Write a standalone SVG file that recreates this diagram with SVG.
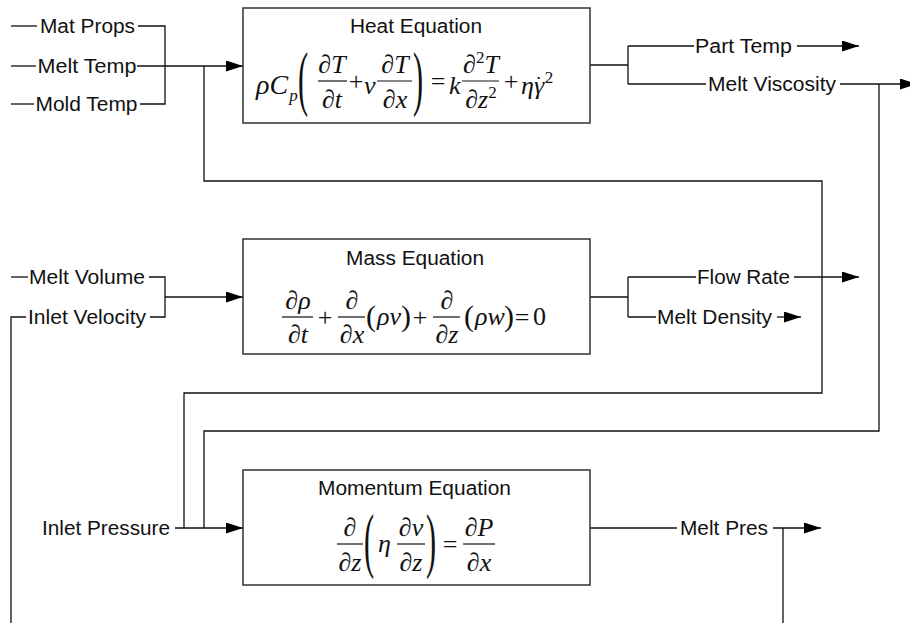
<svg xmlns="http://www.w3.org/2000/svg" width="910" height="623" viewBox="0 0 910 623">
<style>
.bg{fill:#fff}
.box{fill:#fff;stroke:#333;stroke-width:1.5}
.ln{fill:none;stroke:#111;stroke-width:1.3}
.bar{stroke:#111;stroke-width:1.2}
.lbl{font-family:"Liberation Sans",Arial,sans-serif;font-size:20px;fill:#111}
.m{font-family:"Liberation Serif","Times New Roman",serif;font-size:26px;font-style:italic;fill:#111}
.u{font-style:normal}
.sup{font-style:normal;font-size:17px}
.bp{font-size:72px;font-style:normal}
.rp{font-size:30px;font-style:normal}
.c{text-anchor:middle}
</style>
<defs>
<marker id="ah" markerWidth="17" markerHeight="11" refX="17" refY="5.5" orient="auto" markerUnits="userSpaceOnUse"><path d="M0,0 L17,5.5 L0,11 z" fill="#000"/></marker>
</defs>
<rect class="bg" width="910" height="623"/>
<g id="connectors">
<path class="ln" d="M11,26 H37"/>
<path class="ln" d="M138,26 H165 V104 H140"/>
<path class="ln" d="M11,66 H36"/>
<path class="ln" d="M137,66 H243" marker-end="url(#ah)"/>
<path class="ln" d="M11,104 H34"/>
<path class="ln" d="M204,66 V181 H822 V393 H184 V528"/>
<path class="ln" d="M879,84 V431 H204 V528"/>
<path class="ln" d="M175,528 H243" marker-end="url(#ah)"/>
<path class="ln" d="M590,65 H628 M628,46 V84 M628,46 H694 M628,84 H706"/>
<path class="ln" d="M797,46 H859" marker-end="url(#ah)"/>
<path class="ln" d="M840,84 H917" marker-end="url(#ah)"/>
<path class="ln" d="M11,277 H28"/>
<path class="ln" d="M149,277 H165 V317 H150"/>
<path class="ln" d="M165,297 H243" marker-end="url(#ah)"/>
<path class="ln" d="M26,317 H11 V623"/>
<path class="ln" d="M590,297 H628 M628,277 V317 M628,277 H696 M628,317 H656"/>
<path class="ln" d="M794,277 H859" marker-end="url(#ah)"/>
<path class="ln" d="M777,317 H801" marker-end="url(#ah)"/>
<path class="ln" d="M590,528 H677"/>
<path class="ln" d="M773,528 H821" marker-end="url(#ah)"/>
<path class="ln" d="M783,528 V623"/>
</g>
<g id="lbl-mat-props"><text class="lbl" x="40" y="33" textLength="95" lengthAdjust="spacingAndGlyphs">Mat Props</text></g>
<g id="lbl-melt-temp"><text class="lbl" x="37.5" y="73" textLength="99" lengthAdjust="spacingAndGlyphs">Melt Temp</text></g>
<g id="lbl-mold-temp"><text class="lbl" x="35.5" y="111" textLength="102" lengthAdjust="spacingAndGlyphs">Mold Temp</text></g>
<g id="lbl-part-temp"><text class="lbl" x="695" y="53" textLength="97" lengthAdjust="spacingAndGlyphs">Part Temp</text></g>
<g id="lbl-melt-viscosity"><text class="lbl" x="708" y="91" textLength="128" lengthAdjust="spacingAndGlyphs">Melt Viscosity</text></g>
<g id="lbl-melt-volume"><text class="lbl" x="29" y="284" textLength="116" lengthAdjust="spacingAndGlyphs">Melt Volume</text></g>
<g id="lbl-inlet-velocity"><text class="lbl" x="28" y="324" textLength="118" lengthAdjust="spacingAndGlyphs">Inlet Velocity</text></g>
<g id="lbl-flow-rate"><text class="lbl" x="697" y="284" textLength="93" lengthAdjust="spacingAndGlyphs">Flow Rate</text></g>
<g id="lbl-melt-density"><text class="lbl" x="657" y="324" textLength="115" lengthAdjust="spacingAndGlyphs">Melt Density</text></g>
<g id="lbl-inlet-pressure"><text class="lbl" x="42" y="535" textLength="128" lengthAdjust="spacingAndGlyphs">Inlet Pressure</text></g>
<g id="lbl-melt-pres"><text class="lbl" x="680" y="535" textLength="88" lengthAdjust="spacingAndGlyphs">Melt Pres</text></g>

<g id="heat-equation">
<rect class="box" x="243" y="8" width="347" height="115"/>
<text class="lbl" x="350" y="33" textLength="132" lengthAdjust="spacingAndGlyphs">Heat Equation</text>
<text class="m" x="256" y="94" style="font-size:28px">ρC<tspan style="font-size:17px" dx="1" dy="7">p</tspan></text>
<text class="m bp" transform="translate(298,102) scale(0.42,1)">(</text>
<text class="m c" x="332" y="73">∂T</text>
<line class="bar" x1="318" y1="81" x2="347" y2="81"/>
<text class="m c" x="332" y="108">∂t</text>
<text class="m u c" x="356" y="90">+</text>
<text class="m" x="364" y="94">v</text>
<text class="m c" x="395" y="73">∂T</text>
<line class="bar" x1="377" y1="81" x2="412" y2="81"/>
<text class="m c" x="395" y="108">∂x</text>
<text class="m bp" transform="translate(413,102) scale(0.42,1)">)</text>
<text class="m u c" x="438" y="90">=</text>
<text class="m" x="449" y="94">k</text>
<text class="m c" x="481" y="73">∂<tspan class="sup" dy="-10">2</tspan><tspan dy="10">T</tspan></text>
<line class="bar" x1="462" y1="81" x2="499" y2="81"/>
<text class="m c" x="481" y="108">∂z<tspan class="sup" dy="-10">2</tspan></text>
<text class="m u c" x="511" y="90">+</text>
<text class="m" x="521" y="94">ηγ<tspan style="font-style:normal;font-size:20px" dx="-9" dy="-3">˙</tspan><tspan class="sup" dx="3" dy="-8">2</tspan></text>
</g>

<g id="mass-equation">
<rect class="box" x="243" y="239" width="347" height="115"/>
<text class="lbl" x="346" y="265" textLength="138" lengthAdjust="spacingAndGlyphs">Mass Equation</text>
<text class="m c" x="298" y="309">∂ρ</text>
<line class="bar" x1="282" y1="317" x2="313" y2="317"/>
<text class="m c" x="298" y="343">∂t</text>
<text class="m u c" x="325" y="326">+</text>
<text class="m c" x="352" y="309">∂</text>
<line class="bar" x1="338" y1="317" x2="365" y2="317"/>
<text class="m c" x="352" y="343">∂x</text>
<text class="m rp" x="366" y="326">(</text>
<text class="m" x="377" y="325">ρv</text>
<text class="m rp" x="401" y="326">)</text>
<text class="m u c" x="420" y="326">+</text>
<text class="m c" x="447" y="309">∂</text>
<line class="bar" x1="433" y1="317" x2="460" y2="317"/>
<text class="m c" x="447" y="343">∂z</text>
<text class="m rp" x="464" y="326">(</text>
<text class="m" x="475" y="325">ρw</text>
<text class="m rp" x="504" y="326">)</text>
<text class="m u c" x="522" y="326">=</text>
<text class="m u" x="533" y="325">0</text>
</g>

<g id="momentum-equation">
<rect class="box" x="243" y="470" width="347" height="115"/>
<text class="lbl" x="318" y="495" textLength="193" lengthAdjust="spacingAndGlyphs">Momentum Equation</text>
<text class="m c" x="350" y="536">∂</text>
<line class="bar" x1="337" y1="544" x2="363" y2="544"/>
<text class="m c" x="350" y="571">∂z</text>
<text class="m bp" transform="translate(364,564) scale(0.42,1)">(</text>
<text class="m" x="378" y="552">η</text>
<text class="m c" x="411" y="536">∂v</text>
<line class="bar" x1="397" y1="544" x2="425" y2="544"/>
<text class="m c" x="411" y="571">∂z</text>
<text class="m bp" transform="translate(426,564) scale(0.42,1)">)</text>
<text class="m u c" x="450" y="553">=</text>
<text class="m c" x="479" y="536">∂P</text>
<line class="bar" x1="463" y1="544" x2="495" y2="544"/>
<text class="m c" x="479" y="571">∂x</text>
</g>
</svg>
